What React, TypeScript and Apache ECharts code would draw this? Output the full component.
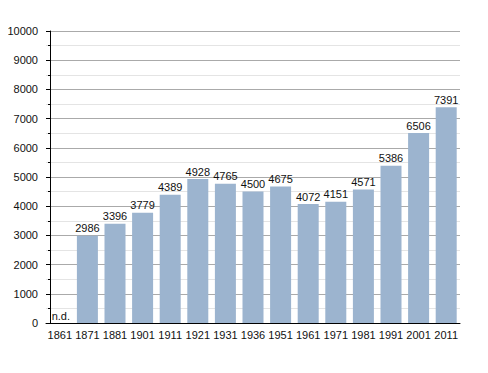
import React, { useEffect, useRef } from "react";
import * as echarts from "echarts";

const categories = ["1861", "1871", "1881", "1901", "1911", "1921", "1931", "1936", "1951", "1961", "1971", "1981", "1991", "2001", "2011"];
const values: (number | null)[] = [null, 2986, 3396, 3779, 4389, 4928, 4765, 4500, 4675, 4072, 4151, 4571, 5386, 6506, 7391];
const missingLabel = "n.d.";

export default function App() {
  const ref = useRef<HTMLDivElement>(null);
  useEffect(() => {
    if (!ref.current) return;
    const chart = echarts.init(ref.current, null, { renderer: "svg" });
    const font = "Liberation Sans, Arial, sans-serif";
    const data = values.map((v) =>
      v === null
        ? { value: 0, label: { formatter: missingLabel, offset: [1, 0] } }
        : { value: v }
    );
    chart.setOption({
      animation: false,
      grid: { left: 46, top: 31, right: 28, bottom: 50 },
      xAxis: {
        type: "category",
        data: categories,
        axisLine: { lineStyle: { color: "#000", width: 1 } },
        axisTick: { show: false },
        axisLabel: { color: "#111", fontSize: 11, fontFamily: font, margin: 6, interval: 0 },
      },
      yAxis: {
        type: "value",
        min: 0,
        max: 10000,
        interval: 1000,
        offset: -4,
        axisLine: { show: true, lineStyle: { color: "#000", width: 1 } },
        axisTick: { show: true, length: 4, lineStyle: { color: "#000" } },
        minorTick: { show: true, splitNumber: 2, length: 2, lineStyle: { color: "#000" } },
        axisLabel: { color: "#111", fontSize: 11, fontFamily: font, margin: 12, formatter: (v: number) => String(v) },
        splitLine: { show: true, lineStyle: { color: "#aaa", width: 1 } },
        minorSplitLine: { show: true, lineStyle: { color: "#e4e4e4", width: 1 } },
      },
      series: [
        {
          type: "bar",
          data,
          barWidth: 21,
          itemStyle: { color: "#9cb4cf" },
          label: {
            show: true,
            position: "top",
            distance: 2,
            color: "#111",
            fontSize: 11,
            fontFamily: font,
          },
        },
      ],
    });
    return () => chart.dispose();
  }, []);
  return <div ref={ref} style={{ width: 488, height: 373, margin: -8 }} />;
}
